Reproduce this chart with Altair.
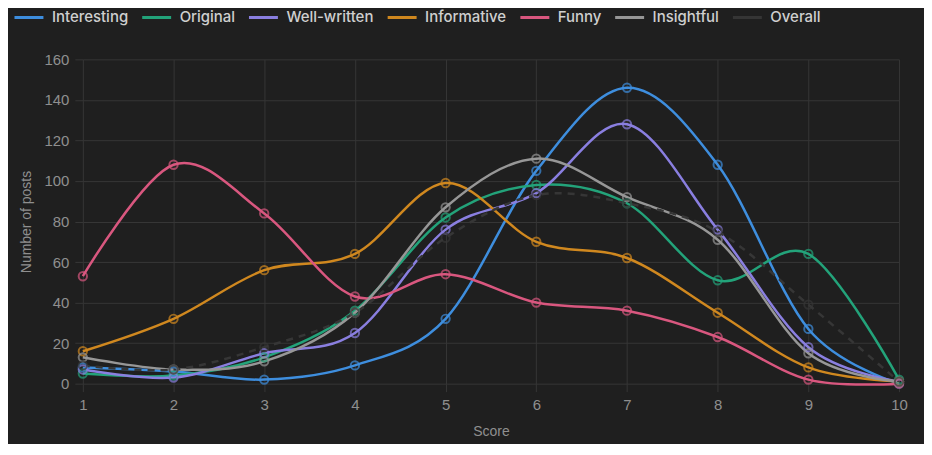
import altair as alt
import pandas as pd

scores = [1, 2, 3, 4, 5, 6, 7, 8, 9, 10]
series = ["Interesting", "Original", "Well-written", "Informative", "Funny", "Insightful", "Overall"]
colors = ["#3e8ede", "#23a37a", "#8a7fe0", "#d0881f", "#d9577f", "#979797", "#363636"]

interesting = [8, 6, 2, 9, 32, 105, 146, 108, 27, 0]
original = [5, 4, 13, 36, 82, 98, 89, 51, 64, 2]
well_written = [7, 3, 15, 25, 76, 94, 128, 76, 18, 1]
informative = [16, 32, 56, 64, 99, 70, 62, 35, 8, 1]
funny = [53, 108, 84, 43, 54, 40, 36, 23, 2, 0]
insightful = [13, 7, 11, 35, 87, 111, 92, 71, 15, 1]
overall = [9, 7, 18, 35, 72, 93, 89, 75, 39, 1]

values = [interesting, original, well_written, informative, funny, insightful, overall]
rows = []
for name, vals in zip(series, values):
    for s, v in zip(scores, vals):
        rows.append({"Score": s, "Posts": v, "Series": name})
df = pd.DataFrame(rows)

color_scale = alt.Scale(domain=series, range=colors)
color = alt.Color(
    "Series:N",
    scale=color_scale,
    sort=series,
    legend=alt.Legend(
        title=None,
        orient="none",
        legendX=-70,
        legendY=-58,
        direction="horizontal",
        symbolType="stroke",
        symbolSize=841,
        symbolStrokeWidth=3,
        symbolDash=[1, 0],
        labelFont="Inter",
        labelFontSize=15,
        labelFontWeight=500,
        labelColor="#cfcfcf",
        columnPadding=7,
        labelOffset=7,
        symbolOffset=0,
    ),
)

x = alt.X(
    "Score:Q",
    scale=alt.Scale(domain=[1, 10], nice=False, zero=False),
    axis=alt.Axis(values=scores, format="d", title="Score", titlePadding=12, labelFlush=False),
)
y = alt.Y(
    "Posts:Q",
    scale=alt.Scale(domain=[0, 160], nice=False),
    axis=alt.Axis(values=[0, 20, 40, 60, 80, 100, 120, 140, 160], title="Number of posts", titlePadding=10),
)

base = alt.Chart(df)
solid = base.transform_filter(alt.datum.Series != "Overall").mark_line(
    interpolate="cardinal", strokeWidth=2.5
).encode(x=x, y=y, color=color, order="Score:Q")
dashed = base.transform_filter(alt.datum.Series == "Overall").mark_line(
    interpolate="cardinal", strokeWidth=2.5, strokeDash=[7, 6]
).encode(x=x, y=y, color=alt.Color("Series:N", scale=color_scale, legend=None), order="Score:Q")
points = base.mark_point(filled=False, size=70, strokeWidth=2).encode(
    x=x, y=y, color=alt.Color("Series:N", scale=color_scale, legend=None)
)

chart = (
    alt.layer(solid, dashed, points)
    .properties(
        width=818,
        height=325,
        background="#1f1f1f",
        autosize=alt.AutoSizeParams(type="none"),
        padding={"left": 75, "top": 51, "right": 25, "bottom": 60},
    )
    .configure_view(stroke=None)
    .configure_axis(
        gridColor="#363636",
        gridWidth=1,
        domain=False,
        tickColor="#363636",
        tickSize=8,
        labelColor="#8f8f8f",
        labelFont="Liberation Sans",
        labelFontSize=15,
        labelPadding=6,
        titleColor="#8f8f8f",
        titleFont="Liberation Sans",
        titleFontSize=14,
        titleFontWeight="normal",
    )
)

chart.save("out.html", embed_options={"renderer": "svg", "actions": False})
